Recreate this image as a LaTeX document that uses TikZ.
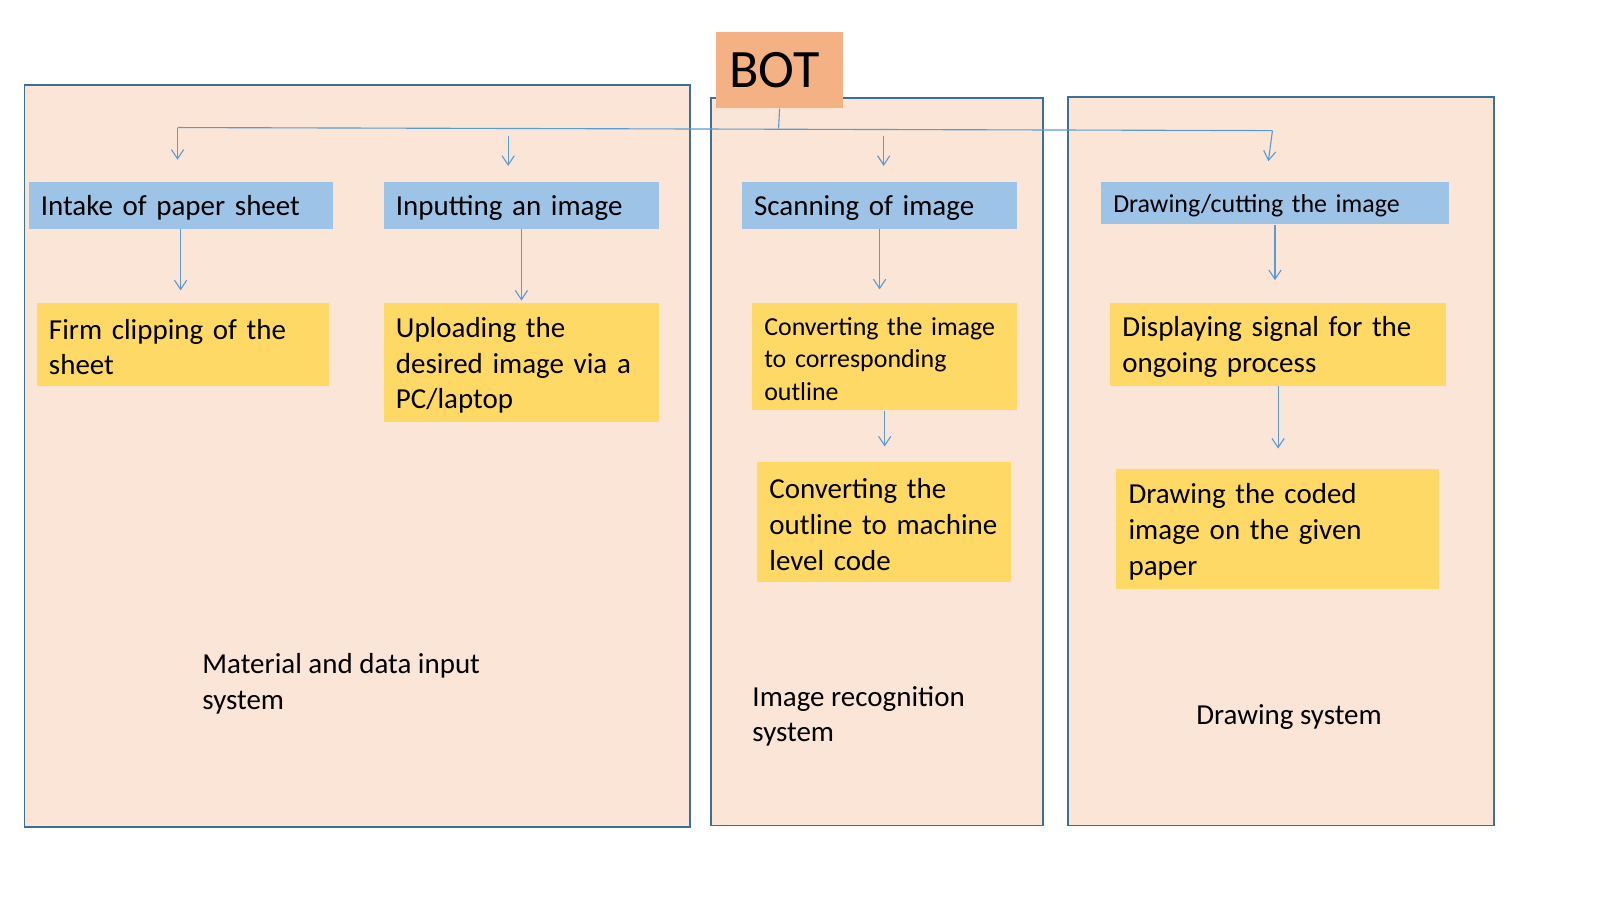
\documentclass[tikz,border=0pt]{standalone}
\usepackage{fontspec}
\setmainfont{Carlito}
\usetikzlibrary{arrows.meta}
\definecolor{peach}{HTML}{FBE5D6}
\definecolor{frame}{HTML}{3F6E96}
\definecolor{bluefill}{HTML}{9DC3E6}
\definecolor{yellowfill}{HTML}{FFD966}
\definecolor{botfill}{HTML}{F4B183}
\definecolor{conncol}{HTML}{5B9BD5}
\begin{document}
\begin{tikzpicture}[x=0.5pt,y=-0.5pt,
  container/.style n args={2}{draw=frame, fill=peach, line width=0.95pt, rectangle, inner sep=0pt,
    minimum width=#1pt, minimum height=#2pt},
  flowbox/.style n args={3}{rectangle, inner xsep=6pt, inner ysep=0pt, align=left,
    minimum width=#1pt, minimum height=#2pt, text width=#3pt,
    execute at begin node={\rule{0pt}{0.88em}}},
  bluebox/.style={fill=bluefill},
  yellowbox/.style={fill=yellowfill},
  bigtext/.style={font=\fontsize{14.2}{17.5}\selectfont},
  smalltext/.style={font=\fontsize{12.7}{15.75}\selectfont},
  caption/.style={inner sep=0pt, anchor=west, align=left, font=\fontsize{14.2}{17.5}\selectfont},
  conn/.style={draw=conncol, line width=0.55pt},
  arr/.style={conn, -{Straight Barb[length=4.5pt,width=6pt,line width=0.55pt]}}
]
\useasboundingbox (0,0) rectangle (1568,882);

% containers
\node[container={326}{363.5}] (C1) at (350,446.5) {};
\node[container={162.5}{356.5}] (C2) at (859.5,452.5) {};
\node[container={208.5}{357}] (C3) at (1255.5,452) {};

% BOT
\node[rectangle, fill=botfill, minimum width=62pt, minimum height=37.5pt, inner sep=0pt,
      font=\fontsize{26.5}{30}\selectfont] (BOT) at (764,68.5) {\hspace{-5pt}BOT};

% blue boxes
\node[flowbox={149}{23}{137}, bluebox, bigtext] (B1) at (177,201) {\mbox{Intake of paper sheet}};
\node[flowbox={135}{23}{123}, bluebox, bigtext] (B2) at (511,201) {\mbox{Inputting an image}};
\node[flowbox={135}{23}{123}, bluebox, bigtext] (B3) at (862,201) {\mbox{Scanning of image}};
\node[flowbox={170.5}{21}{158.5}, bluebox, smalltext] (B4) at (1249.5,199) {\mbox{Drawing/cutting the image}};

% yellow boxes
\node[flowbox={143}{40.5}{131}, yellowbox, bigtext] (Y1) at (179,337.5)
  {\mbox{Firm clipping of the}\\\mbox{sheet}};
\node[flowbox={135}{58.5}{123}, yellowbox, bigtext] (Y2) at (511,355.5)
  {\mbox{Uploading the}\\\mbox{desired image via a}\\\mbox{PC/laptop}};
\node[flowbox={130}{52.5}{118}, yellowbox, smalltext] (Y3) at (867,349.5)
  {\mbox{Converting the image}\\\mbox{to corresponding}\\\mbox{outline}};
\node[flowbox={164.5}{40.5}{152.5}, yellowbox, bigtext] (Y4) at (1252.5,337.5)
  {\mbox{Displaying signal for the}\\\mbox{ongoing process}};
\node[flowbox={124.5}{58.5}{112.5}, yellowbox, bigtext] (Y5) at (866.5,511.5)
  {\mbox{Converting the}\\\mbox{outline to machine}\\\mbox{level code}};
\node[flowbox={158}{58.5}{146}, yellowbox, bigtext] (Y6) at (1252,518.5)
  {\mbox{Drawing the coded}\\\mbox{image on the given}\\\mbox{paper}};

% captions
\node[caption] (L1) at (198,670) {Material and data input\\system};
\node[caption] (L2) at (737,702) {Image recognition\\system};
\node[caption] (L3) at (1172,703) {Drawing system};

% connectors from BOT
\coordinate (J) at (763,126);
\coordinate (JL) at (174,125);
\coordinate (JR) at (1247,128);
\draw[conn] (BOT.south) -- (J);
\draw[conn] (JL) -- (JR);
\draw[arr, shorten >=10.5pt] (JL) -- (JL |- B1.north);
\draw[arr] (JR) -- (1243,158);

% free arrows above blue boxes
\coordinate (F2) at (498,133);
\coordinate (F3) at (866,133);
\draw[arr, shorten >=7.5pt] (F2) -- (F2 |- B2.north);
\draw[arr, shorten >=7.5pt] (F3) -- (F3 |- B3.north);

% blue to yellow
\draw[arr, shorten >=6pt] (B1.south) -- (B1.south |- Y1.north);
\draw[arr, shorten >=1pt] (B2.south) -- (B2.south |- Y2.north);
\draw[arr, shorten >=6.5pt] (B3.south) -- (B3.south |- Y3.north);
\draw[arr, shorten >=11pt] (B4.south) -- (B4.south |- Y4.north);
\draw[arr, shorten >=7.5pt] (Y3.south) -- (Y3.south |- Y5.north);
\draw[arr, shorten >=10pt] (Y4.south) -- (Y4.south |- Y6.north);
\end{tikzpicture}
\end{document}
